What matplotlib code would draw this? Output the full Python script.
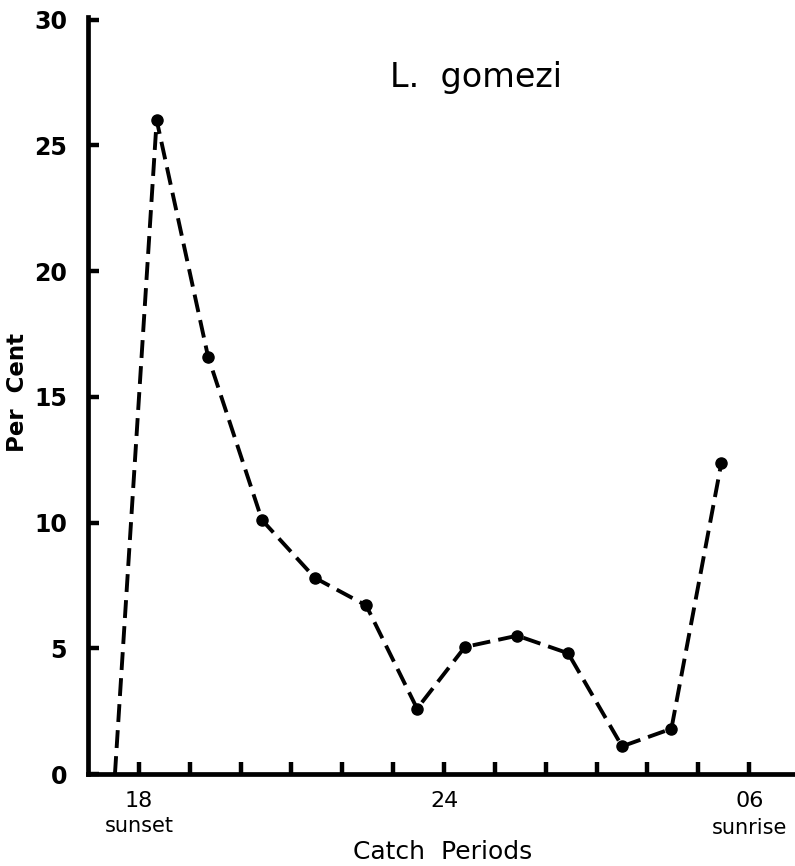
import matplotlib
matplotlib.use("Agg")
import matplotlib.pyplot as plt

# hours after 18:00 at which each catch period is plotted
catch_hours = [-0.47, 0.35, 1.36, 2.42, 3.46, 4.47, 5.47, 6.41, 7.44, 8.44, 9.50, 10.47, 11.45]
per_cent = [0.0, 26.0, 16.6, 10.1, 7.8, 6.7, 2.6, 5.05, 5.5, 4.8, 1.1, 1.8, 12.35]
marked = list(range(1, len(catch_hours)))

x_tick_pos = list(range(0, 13))
x_tick_labels = ["18", "", "", "", "", "", "24", "", "", "", "", "", "06"]
y_ticks = [0, 5, 10, 15, 20, 25, 30]

title = "L.  gomezi"
xlabel = "Catch  Periods"
ylabel = "Per  Cent"

plt.rcParams['font.family'] = ['DejaVu Sans']
fig = plt.figure(figsize=(7.95, 8.66), dpi=100)
ax = fig.add_axes([88/795, (866-774)/866, 1 - 88/795, (774-17)/866])

ax.plot(catch_hours, per_cent, color='black', lw=2.8, dashes=(4.6, 2.1),
        marker='o', markersize=8, markevery=marked)

ax.set_xlim(-1.0, 12.9)
ax.set_ylim(0, 30.1)

for s in ['top', 'right']:
    ax.spines[s].set_visible(False)
for s in ['left', 'bottom']:
    ax.spines[s].set_linewidth(3.4)

ax.set_xticks(x_tick_pos)
ax.set_xticklabels(x_tick_labels, fontsize=16)
ax.set_yticks(y_ticks)
ax.set_yticklabels([str(v) for v in y_ticks], fontsize=17, fontweight='bold')
ax.tick_params(axis='x', direction='in', length=9, width=3.2, pad=12)
ax.tick_params(axis='y', direction='in', length=8, width=3.2, pad=15)

ax.text(0, -2.05, "sunset", ha='center', va='center', fontsize=15)
ax.text(12.0, -2.15, "sunrise", ha='center', va='center', fontsize=15)

ax.text(6.63, 27.7, title, ha='center', va='center', fontsize=24)
fig.text(443/795, 1 - 852/866, xlabel, ha='center', va='center', fontsize=18)
fig.text(18/795, 1 - 393/866, ylabel, ha='center', va='center', fontsize=16.5,
         rotation=90, fontweight='bold')

fig.savefig("out.png", dpi=100)
